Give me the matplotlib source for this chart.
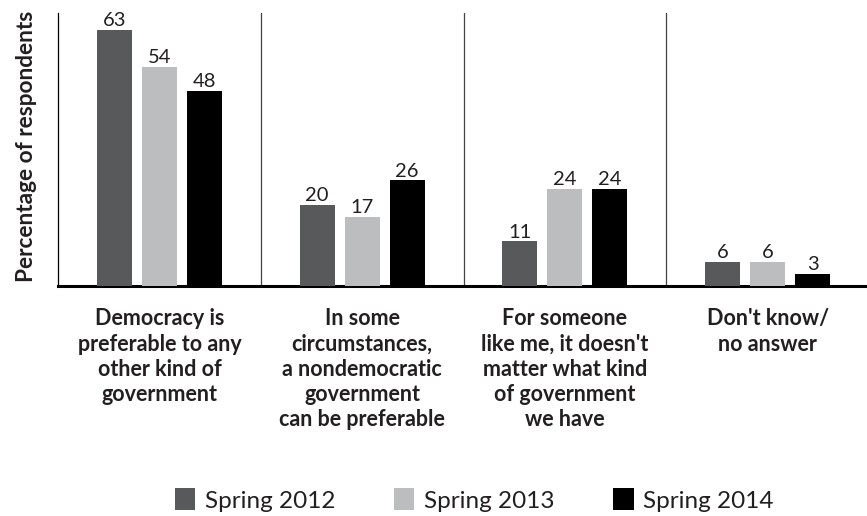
import matplotlib.pyplot as plt
import numpy as np
from matplotlib.patches import Patch
from matplotlib.font_manager import FontProperties

# data
categories = ['Democracy is\npreferable to any\nother kind of\ngovernment',
              'In some\ncircumstances,\na nondemocratic\ngovernment\ncan be preferable',
              "For someone\nlike me, it doesn't\nmatter what kind\nof government\nwe have",
              "Don't know/\nno answer"]
series_names = ['Spring 2012', 'Spring 2013', 'Spring 2014']
spring_2012 = [63, 20, 11, 6]
spring_2013 = [54, 17, 24, 6]
spring_2014 = [48, 26, 24, 3]

colors = ['#58595b', '#bcbdbf', '#000000']
values = [spring_2012, spring_2013, spring_2014]

fig = plt.figure(figsize=(8.67, 5.16), dpi=100)
ax = fig.add_axes([0.0669, 0.4457, 0.9331, 0.529])

x = np.arange(len(categories))
width = 0.172
step = 0.222
for i, (vals, col) in enumerate(zip(values, colors)):
    pos = x + (i - 1) * step
    ax.bar(pos, vals, width=width, color=col, zorder=3)
    for p, v in zip(pos, vals):
        ax.annotate(str(v), (p, v), xytext=(0, 0.5), textcoords='offset points',
                    ha='center', va='bottom', fontsize=14.5, family='Lato',
                    fontweight='normal', color='#231f20')

# separators between groups
for s in x[:-1] + 0.5:
    ax.axvline(s, color='#444444', lw=0.9, zorder=1)

ax.set_xlim(-0.5, 3.49)
ax.set_ylim(0, 67.2)
ax.set_xticks([])
ax.set_yticks([])
for side in ['top', 'right']:
    ax.spines[side].set_visible(False)
ax.spines['left'].set_linewidth(0.9)
ax.spines['bottom'].set_linewidth(2.2)

for xi, cat in zip(x, categories):
    ax.text(xi, -5.5, cat, ha='center', va='top', fontsize=15.5,
            family='Lato', fontweight='bold', color='#231f20',
            linespacing=1.25)

fig.text(0.031, 0.717, 'Percentage of respondents', rotation=90,
         ha='center', va='center', fontsize=16.3, family='Lato',
         fontweight='bold', color='#231f20')

handles = [Patch(facecolor=c, edgecolor='none') for c in colors]
fig.legend(handles, series_names, loc='center', bbox_to_anchor=(0.547, 0.031),
           ncol=3, frameon=False,
           prop=FontProperties(family='Lato', size=17.5),
           handlelength=0.85, handleheight=1.0, handletextpad=0.4,
           columnspacing=2.4, labelcolor='#231f20')

fig.savefig('out.png', dpi=100)
